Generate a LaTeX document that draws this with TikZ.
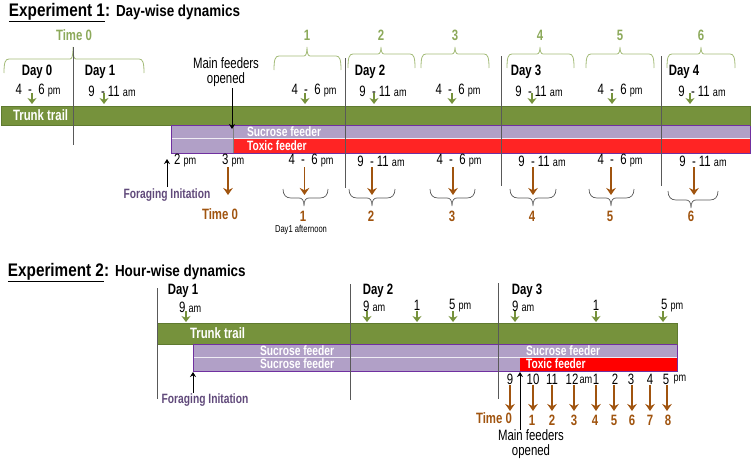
\documentclass[tikz,border=0pt]{standalone}
\usepackage{fontspec}
\usepackage{xcolor}
\setmainfont[FakeStretch=0.76]{Liberation Sans}
\newfontfamily\titlefont[FakeStretch=0.84]{Liberation Sans}
\usetikzlibrary{arrows.meta}
\definecolor{trunkgreen}{HTML}{76923C}
\definecolor{trunkedge}{HTML}{5F7A30}
\definecolor{lightgreen}{HTML}{8CA95A}
\definecolor{bracegreen}{HTML}{A3BB78}
\definecolor{feederpurple}{HTML}{B1A0C7}
\definecolor{edgepurple}{HTML}{7030A0}
\definecolor{labelpurple}{HTML}{60497A}
\definecolor{toxicred}{HTML}{FF2424}
\definecolor{arrowbrown}{HTML}{A0540F}
\newcommand{\fsize}[1]{\fontsize{#1}{#1}\selectfont}
\newcommand{\ampm}[1]{{\fsize{12}#1}}
\tikzset{
every node/.style={inner sep=0pt,outer sep=0pt},
title/.style={anchor=base west,font=\titlefont\bfseries\fsize{18.2}},
subtitle/.style={anchor=base west,font=\titlefont\bfseries\fsize{16}},
day/.style={font=\bfseries\fsize{15}},
time/.style={font=\fsize{15}},
bartext/.style={text=white,font=\bfseries\fsize{15}},
feedertext/.style={text=white,font=\bfseries\fsize{13.5}},
greentext/.style={text=lightgreen,font=\bfseries\fsize{15}},
browntext/.style={text=arrowbrown,font=\bfseries\fsize{15}},
forage/.style={text=labelpurple,font=\bfseries\fsize{13.5}},
mainlab/.style={font=\fsize{15},align=center},
greenarrow/.style={trunkgreen,line width=2.2pt,-{Stealth[length=6pt,width=9pt]}},
brownarrow/.style={arrowbrown,line width=1.9pt,-{Stealth[length=7pt,width=9.5pt]}},
blackarrow/.style={black,line width=1pt,-{Stealth[length=5pt,width=6pt]}},
dayline/.style={black!65,line width=0.8pt},
}
% x-left, x-tip, x-right, y of the bar
\newcommand{\upbrace}[4]{\draw[bracegreen,line width=0.8pt] (#1,#4+14) .. controls (#1,#4+4) and (#1+1,#4) .. (#1+5,#4) -- (#2-3,#4) .. controls (#2-1,#4) and (#2,#4-3) .. (#2,47) .. controls (#2,#4-3) and (#2+1,#4) .. (#2+3,#4) -- (#3-5,#4) .. controls (#3-1,#4) and (#3,#4+4) .. (#3,#4+14);}
\newcommand{\downbrace}[4]{\draw[black!65,line width=0.7pt] (#1,#4-9) .. controls (#1,#4-3) and (#1+3,#4) .. (#1+8,#4) -- (#2-5,#4) .. controls (#2-2,#4) and (#2,#4+2) .. (#2,#4+8) .. controls (#2,#4+2) and (#2+2,#4) .. (#2+5,#4) -- (#3-8,#4) .. controls (#3-3,#4) and (#3,#4-3) .. (#3,#4-9);}
\begin{document}
\begin{tikzpicture}[x=1pt,y=-1pt]
\useasboundingbox (0,0) rectangle (751,458);
% experiment 1
\node[title] (exone) at (9,16) {\underline{Experiment 1}:};
\node[subtitle] (exonesub) at (116,16) {Day-wise dynamics};
\node[greentext] (timezeroup) at (74,35) {Time 0};
\upbrace{4}{73}{144}{59}
\upbrace{274}{307}{341}{56}
\upbrace{348}{381}{415}{54}
\upbrace{421}{455}{489}{54}
\upbrace{507}{540}{574}{54}
\upbrace{586}{620}{654}{54}
\upbrace{667}{701}{735}{54}
\foreach \x/\n in {307/1,381/2,455/3,540/4,620/5,701/6}
  \node[greentext] (up\n) at (\x,35) {\n};
\node[day] (dayzero) at (37,72) {Day 0};
\node[day] (dayone) at (100,72) {Day 1};
\node[day] (daytwo) at (370,72) {Day 2};
\node[day] (daythree) at (526,72) {Day 3};
\node[day] (dayfour) at (684,72) {Day 4};
\foreach \x [count=\i] in {38,314,458,620}
  \node[time] (uppm\i) at (\x,91) {4 \ - \ 6 \ampm{pm}};
\foreach \x [count=\i] in {112,383,539,702}
  \node[time] (upam\i) at (\x,91) {9 \ - 11 \ampm{am}};
\foreach \x [count=\i] in {32,104,305,374,452,532,612,690} {
  \coordinate (gs\i) at (\x,93);
  \coordinate (ge\i) at (\x,104);
  \draw[greenarrow] (gs\i) -- (ge\i);
}
% bars
\fill[feederpurple] (171,125) rectangle (750,153);
\draw[white!80!feederpurple,line width=0.8pt] (171,138) -- (750,138);
\fill[toxicred] (233,138.5) rectangle (750,153);
\draw[edgepurple,line width=1pt] (171,125) rectangle (750,153);
\draw[trunkedge,fill=trunkgreen,line width=0.8pt] (1,106) rectangle (750,125);
\draw[edgepurple,line width=1pt] (171,125) -- (750,125);
\node[bartext,anchor=west] (trunkone) at (13,115) {Trunk trail};
\node[feedertext,anchor=west] (sucroseone) at (247,131.5) {Sucrose feeder};
\node[feedertext,anchor=west] (toxicone) at (247,145.5) {Toxic feeder};
\draw[dayline] (73,47) -- (73,145);
\draw[dayline] (345,58) -- (345,188);
\draw[dayline] (501,56) -- (501,186);
\draw[dayline] (661,56) -- (661,186);
\draw[black!50,line width=0.5pt] (233,125) -- (233,153);
\node[mainlab] (mainone) at (226,72.5) {Main feeders\\[0pt]opened};
\coordinate (mainonetip) at (232,129);
\draw[blackarrow] (232,88) -- (mainonetip);
\node[time,anchor=west] (twopm) at (174,161) {2 \ampm{pm}};
\node[time,anchor=west] (threepm) at (222,161) {3 \ampm{pm}};
\foreach \x [count=\i] in {311,459,620}
  \node[time] (lowpm\i) at (\x,161) {4 \ - \ 6 \ampm{pm}};
\foreach \x [count=\i] in {381,542,703}
  \node[time] (lowam\i) at (\x,161) {9 \ - 11 \ampm{am}};
\node[forage] (forageone) at (167,195.5) {Foraging Initation};
\coordinate (forageonetip) at (167,159);
\draw[blackarrow] (167,187) -- (forageonetip);
\foreach \x [count=\i] in {228,304.5,372,453,533,611,694} {
  \coordinate (bs\i) at (\x,167);
  \coordinate (be\i) at (\x,195);
  \draw[brownarrow] (bs\i) -- (be\i);
}
\node[browntext] (timezerolow) at (220,214) {Time 0};
\downbrace{283}{304}{328}{198}
\downbrace{349}{372}{395}{198}
\downbrace{430}{452}{475}{198}
\downbrace{510}{533}{556}{198}
\downbrace{589}{611}{634}{198}
\downbrace{668}{691}{718}{200}
\foreach \x/\n in {303/1,371/2,452/3,532/4,610/5,691/6}
  \node[browntext] (low\n) at (\x,216) {\n};
\node[font=\fsize{10}] (afternoon) at (301,230) {Day1 afternoon};
% experiment 2
\node[title] (extwo) at (8,276) {\underline{Experiment 2}:};
\node[subtitle] (extwosub) at (115,276) {Hour-wise dynamics};
\node[day] (dayonetwo) at (183,291) {Day 1};
\node[day] (daytwotwo) at (378,291) {Day 2};
\node[day] (daythreetwo) at (527,291) {Day 3};
\fill[feederpurple] (193,344) rectangle (677,371);
\draw[white!80!feederpurple,line width=0.8pt] (193,357.5) -- (677,357.5);
\fill[red] (520,358) rectangle (677,371);
\draw[edgepurple,line width=0.9pt] (193,344) rectangle (677,371);
\draw[trunkedge,fill=trunkgreen,line width=0.8pt] (157,323.5) rectangle (677,344);
\draw[edgepurple,line width=0.9pt] (193,344) -- (677,344);
\node[bartext,anchor=west] (trunktwo) at (190,333) {Trunk trail};
\node[feedertext,anchor=west] (sucrosetwo) at (260,350.5) {Sucrose feeder};
\node[feedertext,anchor=west] (sucrosethree) at (260,364) {Sucrose feeder};
\node[feedertext,anchor=west] (sucrosefour) at (526,350.5) {Sucrose feeder};
\node[feedertext,anchor=west] (toxictwo) at (526,364) {Toxic feeder};
\draw[dayline] (157,288) -- (157,399);
\draw[dayline] (350,284) -- (350,400);
\draw[dayline] (498,283) -- (498,399);
\node[time,anchor=west] (nineone) at (179,307) {9 \ampm{am}};
\node[time,anchor=west] (ninetwo) at (363,306) {9 \ampm{am}};
\node[time] (onetwo) at (417,305) {1};
\node[time,anchor=west] (fivetwo) at (449,306) {5 \ampm{pm}};
\node[time,anchor=west] (ninethree) at (512,306) {9 \ampm{am}};
\node[time] (onethree) at (596,305) {1};
\node[time,anchor=west] (fivethree) at (661,306) {5 \ampm{pm}};
\foreach \x [count=\i] in {186,367,417,453,515,596,663} {
  \coordinate (hs\i) at (\x,311);
  \coordinate (he\i) at (\x,322);
  \draw[greenarrow] (hs\i) -- (he\i);
}
\node[forage] (foragetwo) at (205,400) {Foraging Initation};
\coordinate (foragetwotip) at (193,372);
\draw[blackarrow] (193,393) -- (foragetwotip);
\node[time] (hourzero) at (510,379) {9};
\foreach \x/\n [count=\i] in {533/10,552/11,572/12,596/1,615/2,631/3,650/4,666/5}
  \node[time] (hour\i) at (\x,379) {\n};
\node[font=\fsize{12}] (amtwo) at (586,380) {am};
\node[font=\fsize{12}] (pmtwo) at (680,380) {pm};
\foreach \x [count=\i] in {510,533,552,574,596,614,632,650,667} {
  \coordinate (ts\i) at (\x,385);
  \coordinate (te\i) at (\x,411);
  \draw[brownarrow] (ts\i) -- (te\i);
}
\foreach \x/\n in {532/1,552/2,574/3,595/4,614/5,632/6,650/7,668/8}
  \node[browntext] (num\n) at (\x,420.5) {\n};
\node[browntext] (timezerotwo) at (494,418.5) {Time 0};
\node[mainlab] (maintwo) at (531,444.5) {Main feeders\\[0pt]opened};
\coordinate (maintwotip) at (520,372);
\draw[blackarrow] (520,430) -- (maintwotip);
\end{tikzpicture}
\end{document}
